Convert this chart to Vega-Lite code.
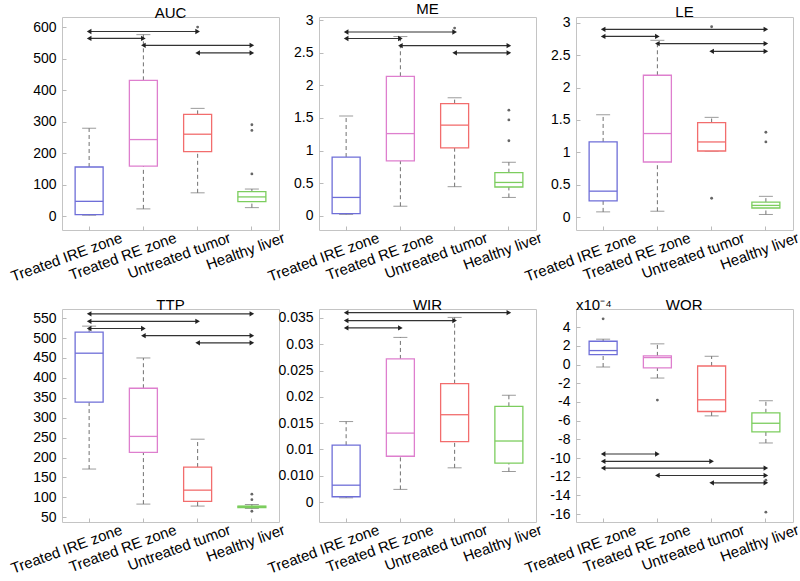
{
  "$schema": "https://vega.github.io/schema/vega-lite/v6.json",
  "background": "white",
  "padding": {"left": 8, "top": 1, "right": 0, "bottom": 0},
  "columns": 3,
  "bounds": "flush",
  "spacing": {"row": 79, "column": 40},
  "config": {
    "font": "Liberation Sans",
    "view": {"stroke": "#c4c4c4", "strokeWidth": 1},
    "axis": {"domain": false, "grid": false, "labelColor": "#000", "labelFont": "Liberation Sans", "tickColor": "#bbbbbb", "tickSize": -4},
    "axisY": {"labelFontSize": 14, "labelPadding": 10, "labelOverlap": false},
    "axisX": {"labelFontSize": 15, "labelAngle": -20, "labelAlign": "right", "labelBaseline": "top", "labelOffset": 30, "labelPadding": 4, "labelOverlap": false, "labelBound": false, "labelLimit": 300},
    "title": {"fontSize": 15, "fontWeight": "normal", "font": "Liberation Sans", "color": "#000", "offset": -4}
  },
  "datasets": {
    "box": [
      {"metric": "AUC", "group": "Treated IRE zone", "lower": 3, "q1": 5, "median": 47, "q3": 156, "upper": 279},
      {"metric": "AUC", "group": "Treated RE zone", "lower": 23, "q1": 159, "median": 243, "q3": 431, "upper": 576},
      {"metric": "AUC", "group": "Untreated tumor", "lower": 74, "q1": 205, "median": 260, "q3": 323, "upper": 342},
      {"metric": "AUC", "group": "Healthy liver", "lower": 27, "q1": 46, "median": 61, "q3": 78, "upper": 86},
      {"metric": "ME", "group": "Treated IRE zone", "lower": 0.02, "q1": 0.03, "median": 0.28, "q3": 0.9, "upper": 1.53},
      {"metric": "ME", "group": "Treated RE zone", "lower": 0.145, "q1": 0.84, "median": 1.26, "q3": 2.14, "upper": 2.75},
      {"metric": "ME", "group": "Untreated tumor", "lower": 0.445, "q1": 1.04, "median": 1.39, "q3": 1.72, "upper": 1.81},
      {"metric": "ME", "group": "Healthy liver", "lower": 0.28, "q1": 0.44, "median": 0.51, "q3": 0.66, "upper": 0.82},
      {"metric": "LE", "group": "Treated IRE zone", "lower": 0.08, "q1": 0.25, "median": 0.4, "q3": 1.16, "upper": 1.58},
      {"metric": "LE", "group": "Treated RE zone", "lower": 0.09, "q1": 0.85, "median": 1.29, "q3": 2.19, "upper": 2.73},
      {"metric": "LE", "group": "Untreated tumor", "lower": 1.02, "q1": 1.02, "median": 1.16, "q3": 1.46, "upper": 1.54},
      {"metric": "LE", "group": "Healthy liver", "lower": 0.04, "q1": 0.14, "median": 0.18, "q3": 0.23, "upper": 0.32},
      {"metric": "TTP", "group": "Treated IRE zone", "lower": 171, "q1": 339, "median": 462, "q3": 515, "upper": 530},
      {"metric": "TTP", "group": "Treated RE zone", "lower": 83, "q1": 213, "median": 253, "q3": 374, "upper": 450},
      {"metric": "TTP", "group": "Untreated tumor", "lower": 78, "q1": 90, "median": 118, "q3": 176, "upper": 246},
      {"metric": "TTP", "group": "Healthy liver", "lower": 72, "q1": 74, "median": 77, "q3": 78, "upper": 82},
      {"metric": "WIR", "group": "Treated IRE zone", "lower": 0.0008, "q1": 0.001, "median": 0.0032, "q3": 0.0108, "upper": 0.0153},
      {"metric": "WIR", "group": "Treated RE zone", "lower": 0.0024, "q1": 0.0087, "median": 0.0131, "q3": 0.0272, "upper": 0.0313},
      {"metric": "WIR", "group": "Untreated tumor", "lower": 0.0065, "q1": 0.0115, "median": 0.0166, "q3": 0.0225, "upper": 0.0351},
      {"metric": "WIR", "group": "Healthy liver", "lower": 0.0058, "q1": 0.0074, "median": 0.0116, "q3": 0.0182, "upper": 0.0203},
      {"metric": "WOR", "group": "Treated IRE zone", "lower": -0.26e-4, "q1": 1.07e-4, "median": 1.5e-4, "q3": 2.5e-4, "upper": 2.72e-4},
      {"metric": "WOR", "group": "Treated RE zone", "lower": -1.44e-4, "q1": -0.36e-4, "median": 0.75e-4, "q3": 0.93e-4, "upper": 2.22e-4},
      {"metric": "WOR", "group": "Untreated tumor", "lower": -5.49e-4, "q1": -5.02e-4, "median": -3.77e-4, "q3": -0.15e-4, "upper": 0.89e-4},
      {"metric": "WOR", "group": "Healthy liver", "lower": -8.39e-4, "q1": -7.2e-4, "median": -6.28e-4, "q3": -5.16e-4, "upper": -3.87e-4}
    ],
    "out": [
      {"metric": "AUC", "group": "Untreated tumor", "value": 600},
      {"metric": "AUC", "group": "Healthy liver", "value": 290},
      {"metric": "AUC", "group": "Healthy liver", "value": 272},
      {"metric": "AUC", "group": "Healthy liver", "value": 134},
      {"metric": "ME", "group": "Untreated tumor", "value": 2.88},
      {"metric": "ME", "group": "Healthy liver", "value": 1.62},
      {"metric": "ME", "group": "Healthy liver", "value": 1.47},
      {"metric": "ME", "group": "Healthy liver", "value": 1.15},
      {"metric": "LE", "group": "Untreated tumor", "value": 2.94},
      {"metric": "LE", "group": "Untreated tumor", "value": 0.29},
      {"metric": "LE", "group": "Healthy liver", "value": 1.31},
      {"metric": "LE", "group": "Healthy liver", "value": 1.16},
      {"metric": "TTP", "group": "Healthy liver", "value": 108},
      {"metric": "TTP", "group": "Healthy liver", "value": 94},
      {"metric": "TTP", "group": "Healthy liver", "value": 65},
      {"metric": "WOR", "group": "Treated IRE zone", "value": 4.9e-4},
      {"metric": "WOR", "group": "Treated RE zone", "value": -3.8e-4},
      {"metric": "WOR", "group": "Healthy liver", "value": -12.37e-4},
      {"metric": "WOR", "group": "Healthy liver", "value": -15.8e-4}
    ],
    "arr": [
      {"metric": "AUC", "group": "Treated IRE zone", "group2": "Untreated tumor", "y": 586},
      {"metric": "AUC", "group": "Treated IRE zone", "group2": "Treated RE zone", "y": 564},
      {"metric": "AUC", "group": "Treated RE zone", "group2": "Healthy liver", "y": 542},
      {"metric": "AUC", "group": "Untreated tumor", "group2": "Healthy liver", "y": 518},
      {"metric": "ME", "group": "Treated IRE zone", "group2": "Untreated tumor", "y": 2.82},
      {"metric": "ME", "group": "Treated IRE zone", "group2": "Treated RE zone", "y": 2.72},
      {"metric": "ME", "group": "Treated RE zone", "group2": "Healthy liver", "y": 2.61},
      {"metric": "ME", "group": "Untreated tumor", "group2": "Healthy liver", "y": 2.5},
      {"metric": "LE", "group": "Treated IRE zone", "group2": "Healthy liver", "y": 2.9},
      {"metric": "LE", "group": "Treated IRE zone", "group2": "Treated RE zone", "y": 2.79},
      {"metric": "LE", "group": "Treated RE zone", "group2": "Healthy liver", "y": 2.68},
      {"metric": "LE", "group": "Untreated tumor", "group2": "Healthy liver", "y": 2.56},
      {"metric": "TTP", "group": "Treated IRE zone", "group2": "Healthy liver", "y": 561},
      {"metric": "TTP", "group": "Treated IRE zone", "group2": "Untreated tumor", "y": 542},
      {"metric": "TTP", "group": "Treated IRE zone", "group2": "Treated RE zone", "y": 524},
      {"metric": "TTP", "group": "Treated RE zone", "group2": "Healthy liver", "y": 506},
      {"metric": "TTP", "group": "Untreated tumor", "group2": "Healthy liver", "y": 488},
      {"metric": "WIR", "group": "Treated IRE zone", "group2": "Healthy liver", "y": 0.036},
      {"metric": "WIR", "group": "Treated IRE zone", "group2": "Untreated tumor", "y": 0.0345},
      {"metric": "WIR", "group": "Treated IRE zone", "group2": "Treated RE zone", "y": 0.0331},
      {"metric": "WOR", "group": "Treated IRE zone", "group2": "Treated RE zone", "y": -9.57e-4},
      {"metric": "WOR", "group": "Treated IRE zone", "group2": "Untreated tumor", "y": -10.36e-4},
      {"metric": "WOR", "group": "Treated IRE zone", "group2": "Healthy liver", "y": -11.08e-4},
      {"metric": "WOR", "group": "Treated RE zone", "group2": "Healthy liver", "y": -11.87e-4},
      {"metric": "WOR", "group": "Untreated tumor", "group2": "Healthy liver", "y": -12.66e-4}
    ]
  },
  "concat": [
    {
      "title": "AUC", "width": 217, "height": 213,
      "encoding": {"x": {"field": "group", "type": "nominal", "sort": ["Treated IRE zone", "Treated RE zone", "Untreated tumor", "Healthy liver"], "scale": {"domain": ["Treated IRE zone", "Treated RE zone", "Untreated tumor", "Healthy liver"], "paddingInner": 0, "paddingOuter": 0}, "axis": {"title": null}}},
      "layer": [
        {"data": {"name": "box"}, "transform": [{"filter": "datum.metric == 'AUC'"}], "layer": [
          {"mark": {"type": "rule", "strokeDash": [4, 3], "color": "#707070"}, "encoding": {"y": {"field": "lower", "type": "quantitative", "scale": {"domain": [-44, 632], "nice": false, "zero": false}, "axis": {"title": null, "tickCount": 30, "labelOverlap": false, "labelExpr": "datum.value + ''", "values": [0, 100, 200, 300, 400, 500, 600]}}, "y2": {"field": "q1"}}},
          {"mark": {"type": "rule", "strokeDash": [4, 3], "color": "#707070"}, "encoding": {"y": {"field": "q3", "type": "quantitative"}, "y2": {"field": "upper"}}},
          {"mark": {"type": "tick", "color": "#707070", "size": 14, "thickness": 1}, "encoding": {"y": {"field": "lower", "type": "quantitative"}}},
          {"mark": {"type": "tick", "color": "#707070", "size": 14, "thickness": 1}, "encoding": {"y": {"field": "upper", "type": "quantitative"}}},
          {"mark": {"type": "bar", "fill": "white", "size": 28, "strokeWidth": 1.3}, "encoding": {"y": {"field": "q1", "type": "quantitative"}, "y2": {"field": "q3"}, "stroke": {"field": "group", "type": "nominal", "scale": {"domain": ["Treated IRE zone", "Treated RE zone", "Untreated tumor", "Healthy liver"], "range": ["#6e6ed8", "#de7fce", "#f26d6d", "#7ccd5e"]}, "legend": null}}},
          {"mark": {"type": "tick", "size": 28, "thickness": 1.3, "opacity": 1}, "encoding": {"y": {"field": "median", "type": "quantitative"}, "color": {"field": "group", "type": "nominal", "scale": {"domain": ["Treated IRE zone", "Treated RE zone", "Untreated tumor", "Healthy liver"], "range": ["#6e6ed8", "#de7fce", "#f26d6d", "#7ccd5e"]}, "legend": null}}}
        ]},
        {"data": {"name": "out"}, "transform": [{"filter": "datum.metric == 'AUC'"}], "mark": {"type": "point", "filled": true, "size": 8, "color": "#666", "opacity": 1}, "encoding": {"y": {"field": "value", "type": "quantitative"}}},
        {"data": {"name": "arr"}, "transform": [{"filter": "datum.metric == 'AUC'"}], "layer": [
          {"mark": {"type": "rule", "color": "#333", "strokeWidth": 1.2}, "encoding": {"x2": {"field": "group2"}, "y": {"field": "y", "type": "quantitative"}}},
          {"mark": {"type": "point", "shape": "triangle-left", "filled": true, "size": 28, "color": "#222", "opacity": 1}, "encoding": {"y": {"field": "y", "type": "quantitative"}}},
          {"mark": {"type": "point", "shape": "triangle-right", "filled": true, "size": 28, "color": "#222", "opacity": 1}, "encoding": {"x": {"field": "group2", "type": "nominal", "sort": ["Treated IRE zone", "Treated RE zone", "Untreated tumor", "Healthy liver"]}, "y": {"field": "y", "type": "quantitative"}}}
        ]}
      ]
    },
    {
      "title": "ME", "width": 217, "height": 213,
      "encoding": {"x": {"field": "group", "type": "nominal", "sort": ["Treated IRE zone", "Treated RE zone", "Untreated tumor", "Healthy liver"], "scale": {"domain": ["Treated IRE zone", "Treated RE zone", "Untreated tumor", "Healthy liver"], "paddingInner": 0, "paddingOuter": 0}, "axis": {"title": null}}},
      "layer": [
        {"data": {"name": "box"}, "transform": [{"filter": "datum.metric == 'ME'"}], "layer": [
          {"mark": {"type": "rule", "strokeDash": [4, 3], "color": "#707070"}, "encoding": {"y": {"field": "lower", "type": "quantitative", "scale": {"domain": [-0.22, 3.05], "nice": false, "zero": false}, "axis": {"title": null, "tickCount": 30, "labelOverlap": false, "labelExpr": "datum.value + ''", "values": [0, 0.5, 1, 1.5, 2, 2.5, 3]}}, "y2": {"field": "q1"}}},
          {"mark": {"type": "rule", "strokeDash": [4, 3], "color": "#707070"}, "encoding": {"y": {"field": "q3", "type": "quantitative"}, "y2": {"field": "upper"}}},
          {"mark": {"type": "tick", "color": "#707070", "size": 14, "thickness": 1}, "encoding": {"y": {"field": "lower", "type": "quantitative"}}},
          {"mark": {"type": "tick", "color": "#707070", "size": 14, "thickness": 1}, "encoding": {"y": {"field": "upper", "type": "quantitative"}}},
          {"mark": {"type": "bar", "fill": "white", "size": 28, "strokeWidth": 1.3}, "encoding": {"y": {"field": "q1", "type": "quantitative"}, "y2": {"field": "q3"}, "stroke": {"field": "group", "type": "nominal", "scale": {"domain": ["Treated IRE zone", "Treated RE zone", "Untreated tumor", "Healthy liver"], "range": ["#6e6ed8", "#de7fce", "#f26d6d", "#7ccd5e"]}, "legend": null}}},
          {"mark": {"type": "tick", "size": 28, "thickness": 1.3, "opacity": 1}, "encoding": {"y": {"field": "median", "type": "quantitative"}, "color": {"field": "group", "type": "nominal", "scale": {"domain": ["Treated IRE zone", "Treated RE zone", "Untreated tumor", "Healthy liver"], "range": ["#6e6ed8", "#de7fce", "#f26d6d", "#7ccd5e"]}, "legend": null}}}
        ]},
        {"data": {"name": "out"}, "transform": [{"filter": "datum.metric == 'ME'"}], "mark": {"type": "point", "filled": true, "size": 8, "color": "#666", "opacity": 1}, "encoding": {"y": {"field": "value", "type": "quantitative"}}},
        {"data": {"name": "arr"}, "transform": [{"filter": "datum.metric == 'ME'"}], "layer": [
          {"mark": {"type": "rule", "color": "#333", "strokeWidth": 1.2}, "encoding": {"x2": {"field": "group2"}, "y": {"field": "y", "type": "quantitative"}}},
          {"mark": {"type": "point", "shape": "triangle-left", "filled": true, "size": 28, "color": "#222", "opacity": 1}, "encoding": {"y": {"field": "y", "type": "quantitative"}}},
          {"mark": {"type": "point", "shape": "triangle-right", "filled": true, "size": 28, "color": "#222", "opacity": 1}, "encoding": {"x": {"field": "group2", "type": "nominal", "sort": ["Treated IRE zone", "Treated RE zone", "Untreated tumor", "Healthy liver"]}, "y": {"field": "y", "type": "quantitative"}}}
        ]}
      ]
    },
    {
      "title": "LE", "width": 217, "height": 213,
      "encoding": {"x": {"field": "group", "type": "nominal", "sort": ["Treated IRE zone", "Treated RE zone", "Untreated tumor", "Healthy liver"], "scale": {"domain": ["Treated IRE zone", "Treated RE zone", "Untreated tumor", "Healthy liver"], "paddingInner": 0, "paddingOuter": 0}, "axis": {"title": null}}},
      "layer": [
        {"data": {"name": "box"}, "transform": [{"filter": "datum.metric == 'LE'"}], "layer": [
          {"mark": {"type": "rule", "strokeDash": [4, 3], "color": "#707070"}, "encoding": {"y": {"field": "lower", "type": "quantitative", "scale": {"domain": [-0.2, 3.09], "nice": false, "zero": false}, "axis": {"title": null, "tickCount": 30, "labelOverlap": false, "labelExpr": "datum.value + ''", "values": [0, 0.5, 1, 1.5, 2, 2.5, 3]}}, "y2": {"field": "q1"}}},
          {"mark": {"type": "rule", "strokeDash": [4, 3], "color": "#707070"}, "encoding": {"y": {"field": "q3", "type": "quantitative"}, "y2": {"field": "upper"}}},
          {"mark": {"type": "tick", "color": "#707070", "size": 14, "thickness": 1}, "encoding": {"y": {"field": "lower", "type": "quantitative"}}},
          {"mark": {"type": "tick", "color": "#707070", "size": 14, "thickness": 1}, "encoding": {"y": {"field": "upper", "type": "quantitative"}}},
          {"mark": {"type": "bar", "fill": "white", "size": 28, "strokeWidth": 1.3}, "encoding": {"y": {"field": "q1", "type": "quantitative"}, "y2": {"field": "q3"}, "stroke": {"field": "group", "type": "nominal", "scale": {"domain": ["Treated IRE zone", "Treated RE zone", "Untreated tumor", "Healthy liver"], "range": ["#6e6ed8", "#de7fce", "#f26d6d", "#7ccd5e"]}, "legend": null}}},
          {"mark": {"type": "tick", "size": 28, "thickness": 1.3, "opacity": 1}, "encoding": {"y": {"field": "median", "type": "quantitative"}, "color": {"field": "group", "type": "nominal", "scale": {"domain": ["Treated IRE zone", "Treated RE zone", "Untreated tumor", "Healthy liver"], "range": ["#6e6ed8", "#de7fce", "#f26d6d", "#7ccd5e"]}, "legend": null}}}
        ]},
        {"data": {"name": "out"}, "transform": [{"filter": "datum.metric == 'LE'"}], "mark": {"type": "point", "filled": true, "size": 8, "color": "#666", "opacity": 1}, "encoding": {"y": {"field": "value", "type": "quantitative"}}},
        {"data": {"name": "arr"}, "transform": [{"filter": "datum.metric == 'LE'"}], "layer": [
          {"mark": {"type": "rule", "color": "#333", "strokeWidth": 1.2}, "encoding": {"x2": {"field": "group2"}, "y": {"field": "y", "type": "quantitative"}}},
          {"mark": {"type": "point", "shape": "triangle-left", "filled": true, "size": 28, "color": "#222", "opacity": 1}, "encoding": {"y": {"field": "y", "type": "quantitative"}}},
          {"mark": {"type": "point", "shape": "triangle-right", "filled": true, "size": 28, "color": "#222", "opacity": 1}, "encoding": {"x": {"field": "group2", "type": "nominal", "sort": ["Treated IRE zone", "Treated RE zone", "Untreated tumor", "Healthy liver"]}, "y": {"field": "y", "type": "quantitative"}}}
        ]}
      ]
    },
    {
      "title": "TTP", "width": 217, "height": 213,
      "encoding": {"x": {"field": "group", "type": "nominal", "sort": ["Treated IRE zone", "Treated RE zone", "Untreated tumor", "Healthy liver"], "scale": {"domain": ["Treated IRE zone", "Treated RE zone", "Untreated tumor", "Healthy liver"], "paddingInner": 0, "paddingOuter": 0}, "axis": {"title": null}}},
      "layer": [
        {"data": {"name": "box"}, "transform": [{"filter": "datum.metric == 'TTP'"}], "layer": [
          {"mark": {"type": "rule", "strokeDash": [4, 3], "color": "#707070"}, "encoding": {"y": {"field": "lower", "type": "quantitative", "scale": {"domain": [38, 573], "nice": false, "zero": false}, "axis": {"title": null, "tickCount": 30, "labelOverlap": false, "labelExpr": "datum.value + ''", "values": [50, 100, 150, 200, 250, 300, 350, 400, 450, 500, 550]}}, "y2": {"field": "q1"}}},
          {"mark": {"type": "rule", "strokeDash": [4, 3], "color": "#707070"}, "encoding": {"y": {"field": "q3", "type": "quantitative"}, "y2": {"field": "upper"}}},
          {"mark": {"type": "tick", "color": "#707070", "size": 14, "thickness": 1}, "encoding": {"y": {"field": "lower", "type": "quantitative"}}},
          {"mark": {"type": "tick", "color": "#707070", "size": 14, "thickness": 1}, "encoding": {"y": {"field": "upper", "type": "quantitative"}}},
          {"mark": {"type": "bar", "fill": "white", "size": 28, "strokeWidth": 1.3}, "encoding": {"y": {"field": "q1", "type": "quantitative"}, "y2": {"field": "q3"}, "stroke": {"field": "group", "type": "nominal", "scale": {"domain": ["Treated IRE zone", "Treated RE zone", "Untreated tumor", "Healthy liver"], "range": ["#6e6ed8", "#de7fce", "#f26d6d", "#7ccd5e"]}, "legend": null}}},
          {"mark": {"type": "tick", "size": 28, "thickness": 1.3, "opacity": 1}, "encoding": {"y": {"field": "median", "type": "quantitative"}, "color": {"field": "group", "type": "nominal", "scale": {"domain": ["Treated IRE zone", "Treated RE zone", "Untreated tumor", "Healthy liver"], "range": ["#6e6ed8", "#de7fce", "#f26d6d", "#7ccd5e"]}, "legend": null}}}
        ]},
        {"data": {"name": "out"}, "transform": [{"filter": "datum.metric == 'TTP'"}], "mark": {"type": "point", "filled": true, "size": 8, "color": "#666", "opacity": 1}, "encoding": {"y": {"field": "value", "type": "quantitative"}}},
        {"data": {"name": "arr"}, "transform": [{"filter": "datum.metric == 'TTP'"}], "layer": [
          {"mark": {"type": "rule", "color": "#333", "strokeWidth": 1.2}, "encoding": {"x2": {"field": "group2"}, "y": {"field": "y", "type": "quantitative"}}},
          {"mark": {"type": "point", "shape": "triangle-left", "filled": true, "size": 28, "color": "#222", "opacity": 1}, "encoding": {"y": {"field": "y", "type": "quantitative"}}},
          {"mark": {"type": "point", "shape": "triangle-right", "filled": true, "size": 28, "color": "#222", "opacity": 1}, "encoding": {"x": {"field": "group2", "type": "nominal", "sort": ["Treated IRE zone", "Treated RE zone", "Untreated tumor", "Healthy liver"]}, "y": {"field": "y", "type": "quantitative"}}}
        ]}
      ]
    },
    {
      "title": "WIR", "width": 217, "height": 213,
      "encoding": {"x": {"field": "group", "type": "nominal", "sort": ["Treated IRE zone", "Treated RE zone", "Untreated tumor", "Healthy liver"], "scale": {"domain": ["Treated IRE zone", "Treated RE zone", "Untreated tumor", "Healthy liver"], "paddingInner": 0, "paddingOuter": 0}, "axis": {"title": null}}},
      "layer": [
        {"data": {"name": "box"}, "transform": [{"filter": "datum.metric == 'WIR'"}], "layer": [
          {"mark": {"type": "rule", "strokeDash": [4, 3], "color": "#707070"}, "encoding": {"y": {"field": "lower", "type": "quantitative", "scale": {"domain": [-0.0038, 0.0367], "nice": false, "zero": false}, "axis": {"title": null, "tickCount": 30, "labelOverlap": false, "values": [0, 0.005, 0.01, 0.015, 0.02, 0.025, 0.03, 0.035], "labelExpr": "datum.value == 0 ? '0' : (abs(datum.value - 0.005) < 1e-9 ? '0.010' : datum.value + '')"}}, "y2": {"field": "q1"}}},
          {"mark": {"type": "rule", "strokeDash": [4, 3], "color": "#707070"}, "encoding": {"y": {"field": "q3", "type": "quantitative"}, "y2": {"field": "upper"}}},
          {"mark": {"type": "tick", "color": "#707070", "size": 14, "thickness": 1}, "encoding": {"y": {"field": "lower", "type": "quantitative"}}},
          {"mark": {"type": "tick", "color": "#707070", "size": 14, "thickness": 1}, "encoding": {"y": {"field": "upper", "type": "quantitative"}}},
          {"mark": {"type": "bar", "fill": "white", "size": 28, "strokeWidth": 1.3}, "encoding": {"y": {"field": "q1", "type": "quantitative"}, "y2": {"field": "q3"}, "stroke": {"field": "group", "type": "nominal", "scale": {"domain": ["Treated IRE zone", "Treated RE zone", "Untreated tumor", "Healthy liver"], "range": ["#6e6ed8", "#de7fce", "#f26d6d", "#7ccd5e"]}, "legend": null}}},
          {"mark": {"type": "tick", "size": 28, "thickness": 1.3, "opacity": 1}, "encoding": {"y": {"field": "median", "type": "quantitative"}, "color": {"field": "group", "type": "nominal", "scale": {"domain": ["Treated IRE zone", "Treated RE zone", "Untreated tumor", "Healthy liver"], "range": ["#6e6ed8", "#de7fce", "#f26d6d", "#7ccd5e"]}, "legend": null}}}
        ]},
        {"data": {"name": "arr"}, "transform": [{"filter": "datum.metric == 'WIR'"}], "layer": [
          {"mark": {"type": "rule", "color": "#333", "strokeWidth": 1.2}, "encoding": {"x2": {"field": "group2"}, "y": {"field": "y", "type": "quantitative"}}},
          {"mark": {"type": "point", "shape": "triangle-left", "filled": true, "size": 28, "color": "#222", "opacity": 1}, "encoding": {"y": {"field": "y", "type": "quantitative"}}},
          {"mark": {"type": "point", "shape": "triangle-right", "filled": true, "size": 28, "color": "#222", "opacity": 1}, "encoding": {"x": {"field": "group2", "type": "nominal", "sort": ["Treated IRE zone", "Treated RE zone", "Untreated tumor", "Healthy liver"]}, "y": {"field": "y", "type": "quantitative"}}}
        ]}
      ]
    },
    {
      "title": {"text": "x10⁻⁴\u00a0\u00a0\u00a0\u00a0\u00a0\u00a0\u00a0\u00a0\u00a0\u00a0\u00a0\u00a0\u00a0WOR", "anchor": "start", "frame": "group"}, "width": 217, "height": 213,
      "encoding": {"x": {"field": "group", "type": "nominal", "sort": ["Treated IRE zone", "Treated RE zone", "Untreated tumor", "Healthy liver"], "scale": {"domain": ["Treated IRE zone", "Treated RE zone", "Untreated tumor", "Healthy liver"], "paddingInner": 0, "paddingOuter": 0}, "axis": {"title": null}}},
      "layer": [
        {"data": {"name": "box"}, "transform": [{"filter": "datum.metric == 'WOR'"}], "layer": [
          {"mark": {"type": "rule", "strokeDash": [4, 3], "color": "#707070"}, "encoding": {"y": {"field": "lower", "type": "quantitative", "scale": {"domain": [-0.001685, 0.000595], "nice": false, "zero": false}, "axis": {"title": null, "tickCount": 30, "labelOverlap": false, "values": [-0.0016, -0.0014, -0.0012, -0.001, -0.0008, -0.0006, -0.0004, -0.0002, 0, 0.0002, 0.0004], "labelExpr": "'' + round(datum.value * 10000)"}}, "y2": {"field": "q1"}}},
          {"mark": {"type": "rule", "strokeDash": [4, 3], "color": "#707070"}, "encoding": {"y": {"field": "q3", "type": "quantitative"}, "y2": {"field": "upper"}}},
          {"mark": {"type": "tick", "color": "#707070", "size": 14, "thickness": 1}, "encoding": {"y": {"field": "lower", "type": "quantitative"}}},
          {"mark": {"type": "tick", "color": "#707070", "size": 14, "thickness": 1}, "encoding": {"y": {"field": "upper", "type": "quantitative"}}},
          {"mark": {"type": "bar", "fill": "white", "size": 28, "strokeWidth": 1.3}, "encoding": {"y": {"field": "q1", "type": "quantitative"}, "y2": {"field": "q3"}, "stroke": {"field": "group", "type": "nominal", "scale": {"domain": ["Treated IRE zone", "Treated RE zone", "Untreated tumor", "Healthy liver"], "range": ["#6e6ed8", "#de7fce", "#f26d6d", "#7ccd5e"]}, "legend": null}}},
          {"mark": {"type": "tick", "size": 28, "thickness": 1.3, "opacity": 1}, "encoding": {"y": {"field": "median", "type": "quantitative"}, "color": {"field": "group", "type": "nominal", "scale": {"domain": ["Treated IRE zone", "Treated RE zone", "Untreated tumor", "Healthy liver"], "range": ["#6e6ed8", "#de7fce", "#f26d6d", "#7ccd5e"]}, "legend": null}}}
        ]},
        {"data": {"name": "out"}, "transform": [{"filter": "datum.metric == 'WOR'"}], "mark": {"type": "point", "filled": true, "size": 8, "color": "#666", "opacity": 1}, "encoding": {"y": {"field": "value", "type": "quantitative"}}},
        {"data": {"name": "arr"}, "transform": [{"filter": "datum.metric == 'WOR'"}], "layer": [
          {"mark": {"type": "rule", "color": "#333", "strokeWidth": 1.2}, "encoding": {"x2": {"field": "group2"}, "y": {"field": "y", "type": "quantitative"}}},
          {"mark": {"type": "point", "shape": "triangle-left", "filled": true, "size": 28, "color": "#222", "opacity": 1}, "encoding": {"y": {"field": "y", "type": "quantitative"}}},
          {"mark": {"type": "point", "shape": "triangle-right", "filled": true, "size": 28, "color": "#222", "opacity": 1}, "encoding": {"x": {"field": "group2", "type": "nominal", "sort": ["Treated IRE zone", "Treated RE zone", "Untreated tumor", "Healthy liver"]}, "y": {"field": "y", "type": "quantitative"}}}
        ]}
      ]
    }
  ]
}
